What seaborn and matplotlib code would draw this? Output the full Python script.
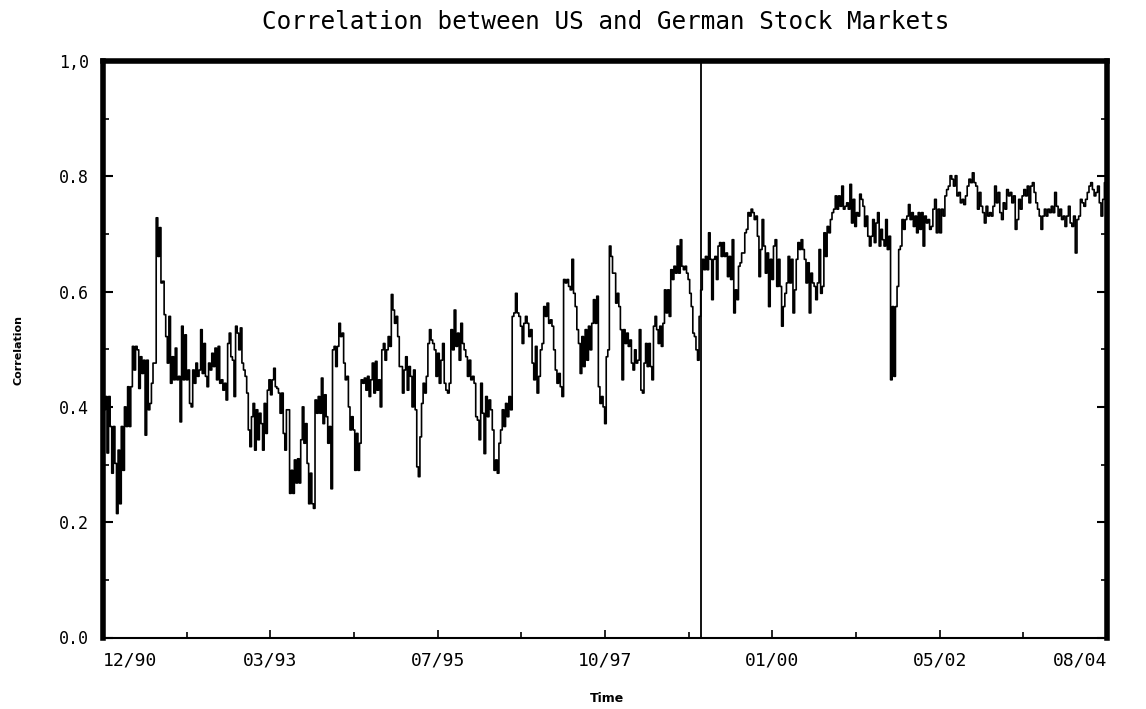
import numpy as np
import pandas as pd
import matplotlib
matplotlib.use("Agg")
import matplotlib.pyplot as plt
import matplotlib.dates as mdates
import seaborn as sns

# ---------------- data ----------------
title = "Correlation between US and German Stock Markets"
y_label = "Correlation"
x_label = "Time"
start_date = "1990-12-01"
end_date = "2004-08-01"
euro_date = "1999-01-20"
# period boundaries of the six stretches of readings below
period_bounds = ["1990-12-01", "1993-03-01", "1995-06-01", "1997-08-25",
                 "1999-11-25", "2002-03-15", "2004-08-01"]
x_tick_labels = ["12/90", "03/93", "07/95", "10/97", "01/00", "05/02", "08/04"]
y_ticks = [0.0, 0.2, 0.4, 0.6, 0.8, 1.0]
y_tick_labels = ["0.0", "0.2", "0.4", "0.6", "0.8", "1,0"]

corr_1991_1993 = [0.48, 0.395, 0.418, 0.32, 0.418, 0.366, 0.285, 0.366, 0.302, 0.215, 0.325, 0.232,
                  0.366, 0.29, 0.40, 0.366, 0.435, 0.366, 0.435, 0.505, 0.464, 0.505, 0.499, 0.432,
                  0.487, 0.458, 0.481, 0.351, 0.481, 0.395, 0.406, 0.441, 0.476, 0.476, 0.728, 0.661,
                  0.711, 0.615, 0.618, 0.56, 0.522, 0.476, 0.557, 0.441, 0.487, 0.447, 0.502, 0.447,
                  0.453, 0.374, 0.54, 0.447, 0.525, 0.447, 0.464, 0.406, 0.40, 0.464, 0.441, 0.476,
                  0.453, 0.464, 0.534, 0.458, 0.51, 0.453, 0.435, 0.476, 0.464, 0.493, 0.47, 0.502,
                  0.447, 0.505, 0.441, 0.447, 0.429, 0.441, 0.412, 0.51, 0.528, 0.487, 0.481, 0.418,
                  0.54, 0.528, 0.499, 0.537, 0.476, 0.464, 0.453, 0.424, 0.36, 0.331, 0.383, 0.406,
                  0.325, 0.395, 0.343, 0.389, 0.371, 0.325, 0.406, 0.354]

corr_1993_1995 = [0.429, 0.447, 0.421, 0.447, 0.467, 0.435, 0.432, 0.424, 0.389, 0.424, 0.354, 0.325,
                  0.395, 0.395, 0.25, 0.29, 0.25, 0.308, 0.268, 0.31, 0.268, 0.343, 0.40, 0.337,
                  0.371, 0.302, 0.232, 0.285, 0.232, 0.224, 0.412, 0.389, 0.418, 0.389, 0.45, 0.371,
                  0.421, 0.383, 0.337, 0.366, 0.258, 0.499, 0.505, 0.47, 0.505, 0.545, 0.522, 0.528,
                  0.476, 0.447, 0.453, 0.40, 0.36, 0.383, 0.36, 0.29, 0.354, 0.29, 0.337, 0.447,
                  0.441, 0.45, 0.429, 0.453, 0.418, 0.447, 0.476, 0.424, 0.479, 0.429, 0.447, 0.40,
                  0.499, 0.51, 0.481, 0.499, 0.522, 0.505, 0.595, 0.568, 0.545, 0.557, 0.522, 0.47,
                  0.47, 0.424, 0.464, 0.487, 0.429, 0.47, 0.453, 0.40, 0.464, 0.395, 0.296, 0.279,
                  0.348, 0.406, 0.441, 0.424, 0.453, 0.51, 0.534, 0.516]

corr_1995_1997 = [0.51, 0.499, 0.453, 0.493, 0.441, 0.481, 0.51, 0.441, 0.429, 0.424, 0.441, 0.534,
                  0.499, 0.568, 0.505, 0.528, 0.481, 0.545, 0.51, 0.499, 0.487, 0.453, 0.481, 0.447,
                  0.453, 0.441, 0.383, 0.377, 0.343, 0.441, 0.389, 0.319, 0.418, 0.383, 0.412, 0.395,
                  0.36, 0.29, 0.308, 0.285, 0.337, 0.36, 0.395, 0.366, 0.406, 0.383, 0.418, 0.395,
                  0.557, 0.563, 0.597, 0.563, 0.557, 0.54, 0.51, 0.545, 0.557, 0.545, 0.522, 0.534,
                  0.476, 0.447, 0.505, 0.424, 0.453, 0.499, 0.51, 0.574, 0.557, 0.58, 0.545, 0.551,
                  0.54, 0.499, 0.464, 0.441, 0.458, 0.435, 0.418, 0.621, 0.615, 0.621, 0.609, 0.603,
                  0.656, 0.597, 0.574, 0.534, 0.51, 0.458, 0.522, 0.47, 0.534, 0.481, 0.54, 0.499,
                  0.545, 0.586, 0.545]

corr_1997_2000 = [0.592, 0.435, 0.406, 0.418, 0.40, 0.371, 0.487, 0.499, 0.679, 0.661, 0.632, 0.632,
                  0.58, 0.597, 0.574, 0.534, 0.447, 0.534, 0.51, 0.528, 0.505, 0.516, 0.476, 0.464,
                  0.499, 0.476, 0.481, 0.534, 0.429, 0.424, 0.476, 0.51, 0.47, 0.51, 0.47, 0.447,
                  0.54, 0.557, 0.534, 0.51, 0.54, 0.505, 0.545, 0.603, 0.563, 0.603, 0.557, 0.638,
                  0.621, 0.644, 0.632, 0.679, 0.632, 0.69, 0.644, 0.638, 0.644, 0.632, 0.621, 0.597,
                  0.574, 0.528, 0.522, 0.499, 0.481, 0.557, 0.603, 0.656, 0.638, 0.661, 0.638, 0.702,
                  0.656, 0.586, 0.656, 0.661, 0.621, 0.679, 0.685, 0.661, 0.685, 0.661, 0.667, 0.626,
                  0.661, 0.621, 0.69, 0.563, 0.603, 0.586, 0.644, 0.65, 0.667, 0.667, 0.702, 0.708,
                  0.737, 0.731, 0.743, 0.737, 0.725, 0.731, 0.696, 0.626, 0.673]

corr_2000_2002 = [0.725, 0.679, 0.632, 0.667, 0.574, 0.656, 0.621, 0.679, 0.69, 0.609, 0.656, 0.609,
                  0.54, 0.574, 0.597, 0.615, 0.661, 0.615, 0.656, 0.563, 0.603, 0.656, 0.685, 0.673,
                  0.69, 0.673, 0.656, 0.615, 0.65, 0.563, 0.632, 0.615, 0.609, 0.586, 0.615, 0.673,
                  0.597, 0.609, 0.702, 0.661, 0.713, 0.702, 0.725, 0.737, 0.743, 0.766, 0.743, 0.766,
                  0.748, 0.783, 0.743, 0.748, 0.754, 0.743, 0.786, 0.719, 0.76, 0.713, 0.737, 0.731,
                  0.769, 0.76, 0.748, 0.713, 0.731, 0.696, 0.679, 0.696, 0.725, 0.685, 0.719, 0.737,
                  0.679, 0.708, 0.69, 0.679, 0.725, 0.673, 0.696, 0.447, 0.574, 0.453, 0.574, 0.609,
                  0.673, 0.679, 0.725, 0.708, 0.725, 0.731, 0.751, 0.725, 0.737, 0.713, 0.731, 0.702,
                  0.737, 0.708, 0.737, 0.679, 0.731, 0.719, 0.725, 0.708]

corr_2002_2004 = [0.713, 0.743, 0.76, 0.702, 0.743, 0.702, 0.743, 0.731, 0.766, 0.777, 0.783, 0.801,
                  0.795, 0.783, 0.801, 0.766, 0.772, 0.754, 0.76, 0.751, 0.766, 0.783, 0.795, 0.789,
                  0.806, 0.789, 0.783, 0.743, 0.772, 0.748, 0.737, 0.719, 0.748, 0.731, 0.737, 0.731,
                  0.748, 0.783, 0.754, 0.772, 0.737, 0.725, 0.754, 0.743, 0.777, 0.766, 0.772, 0.754,
                  0.766, 0.708, 0.725, 0.76, 0.743, 0.766, 0.777, 0.766, 0.783, 0.754, 0.783, 0.789,
                  0.772, 0.754, 0.743, 0.731, 0.708, 0.731, 0.743, 0.731, 0.743, 0.737, 0.748, 0.737,
                  0.772, 0.748, 0.731, 0.743, 0.725, 0.731, 0.713, 0.731, 0.748, 0.719, 0.713, 0.731,
                  0.667, 0.725, 0.731, 0.76, 0.754, 0.748, 0.76, 0.772, 0.783, 0.789, 0.777, 0.766,
                  0.772, 0.783, 0.754, 0.731, 0.76, 0.789, 0.801]

segments = [corr_1991_1993, corr_1993_1995, corr_1995_1997,
            corr_1997_2000, corr_2000_2002, corr_2002_2004]

frames = []
for i, seg in enumerate(segments):
    last = i == len(segments) - 1
    n = len(seg) if last else len(seg) + 1
    d = pd.date_range(period_bounds[i], period_bounds[i + 1], periods=n)
    if not last:
        d = d[:-1]
    frames.append(pd.DataFrame({"date": d, "corr": seg}))
df = pd.concat(frames, ignore_index=True)

# ---------------- style ----------------
sns.set_style("ticks")
plt.rcParams["font.family"] = ["DejaVu Sans Mono", "DejaVu Sans"]

fig = plt.figure(figsize=(11.46, 7.09), dpi=100)
ax = fig.add_axes([103 / 1146, 1 - 637.5 / 709, (1107 - 103) / 1146, (637.5 - 61) / 709])

sns.lineplot(data=df, x="date", y="corr", ax=ax, color="black", linewidth=1.2,
             drawstyle="steps-mid", estimator=None, sort=False)
ax.axvline(mdates.date2num(pd.Timestamp(euro_date)), color="black", linewidth=1.3)

x0 = mdates.date2num(pd.Timestamp(start_date))
x1 = mdates.date2num(pd.Timestamp(end_date))
ax.set_xlim(x0, x1)
ax.set_ylim(0, 1)

ax.set_xticks(np.linspace(x0, x1, len(x_tick_labels)))
ax.set_xticklabels(x_tick_labels)
ax.set_xticks(np.linspace(x0, x1, 2 * len(x_tick_labels) - 1), minor=True)
ax.set_yticks(y_ticks)
ax.set_yticklabels(y_tick_labels)
ax.set_yticks(np.arange(0.1, 1.0, 0.2), minor=True)
ax.set_xlabel("")
ax.set_ylabel("")

ticks = ax.xaxis.get_major_ticks()
ticks[0].label1.set_horizontalalignment("left")
ticks[-1].label1.set_horizontalalignment("right")

for side in ["left", "top", "right"]:
    ax.spines[side].set_linewidth(4.0)
    ax.spines[side].set_color("black")
ax.spines["bottom"].set_linewidth(1.5)
ax.spines["bottom"].set_color("black")

ax.tick_params(axis="both", which="both", direction="in", color="black", labelcolor="black")
ax.tick_params(axis="y", which="major", length=7, width=1.5, labelsize=12, pad=10,
               left=True, right=True)
ax.tick_params(axis="y", which="minor", length=4, width=1.2, left=True, right=True)
ax.tick_params(axis="x", which="major", length=6, width=1.2, labelsize=13, pad=10,
               bottom=True, top=False)
ax.tick_params(axis="x", which="minor", length=4, width=1.2, bottom=True, top=False)

fig.text(606 / 1146, 1 - 22 / 709, title, ha="center", va="center", fontsize=17.5,
         color="black")
fig.text(18 / 1146, 1 - 350 / 709, y_label, ha="center", va="center", rotation=90,
         fontsize=8, fontweight="bold", family="DejaVu Sans", color="black")
fig.text(607 / 1146, 1 - 699 / 709, x_label, ha="center", va="center",
         fontsize=9, fontweight="bold", family="DejaVu Sans", color="black")

fig.savefig("out.png", dpi=100)
